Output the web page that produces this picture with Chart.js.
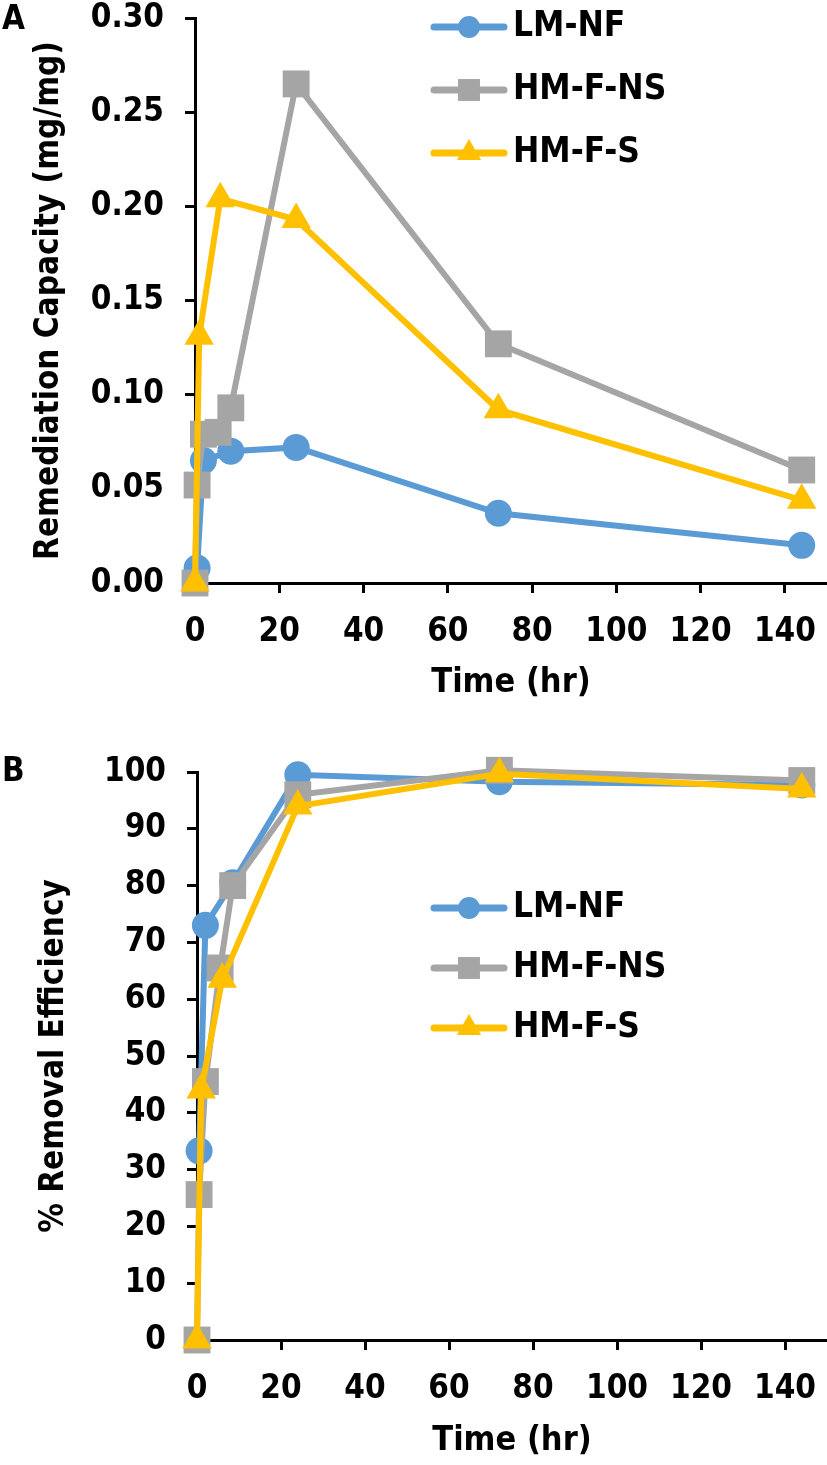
<!DOCTYPE html>
<html>
<head>
<meta charset="utf-8">
<title>Remediation capacity and removal efficiency</title>
<script src="https://cdn.jsdelivr.net/npm/chart.js@4.4.1/dist/chart.umd.min.js"></script>
<style>
  body { margin: 0; background: #fff; }
  #wrapA { position: absolute; left: 0; top: 0; width: 827px; height: 735px; }
  #wrapB { position: absolute; left: 0; top: 735px; width: 827px; height: 730px; }
</style>
</head>
<body>
<div id="wrapA"><canvas id="chartA" width="827" height="735"></canvas></div>
<div id="wrapB"><canvas id="chartB" width="827" height="730"></canvas></div>
<script>
const seriesNames = ['LM-NF', 'HM-F-NS', 'HM-F-S'];
const seriesColors = ['#5B9BD5', '#A5A5A5', '#FFC000'];
const seriesStyles = ['circle', 'rect', 'triangle'];

// sampling times (hr) per series
const lmTimes = [0.5, 2, 8.5, 24, 72, 144];
const nsTimes = [0, 0.5, 2, 5.5, 8.5, 24, 72, 144];
const sTimes = [0, 1, 6, 24, 72, 144];

// panel A - remediation capacity (mg/mg)
const lmCapacity = [0.008, 0.065, 0.070, 0.072, 0.037, 0.020];
const nsCapacity = [0, 0.052, 0.079, 0.080, 0.093, 0.265, 0.127, 0.060];
const sCapacity = [0, 0.131, 0.204, 0.193, 0.092, 0.044];

// panel B - % removal efficiency
const lmRemoval = [33.3, 73, 80.5, 99.5, 98.3, 97.7];
const nsRemoval = [0, 25.6, 45.5, 65.5, 80, 96, 100.3, 98.5];
const sRemoval = [0, 44, 63.5, 94, 99.7, 97];

const FONT = '"DejaVu Sans Condensed", "DejaVu Sans", sans-serif';
Chart.defaults.font.family = FONT;
Chart.defaults.font.weight = 'bold';
Chart.defaults.color = '#000';

const pointSizes = [13.5, 19, 17];
const legendSizes = [11, 15.5, 14];

function toPoints(times, values) {
  return times.map((t, i) => ({ x: t, y: values[i] }));
}

function makeDatasets(valueSets, timeSets) {
  return valueSets.map((vals, i) => ({
    label: seriesNames[i],
    data: toPoints(timeSets[i], vals),
    showLine: true,
    borderColor: seriesColors[i],
    backgroundColor: seriesColors[i],
    borderWidth: 6,
    pointStyle: seriesStyles[i],
    pointRadius: pointSizes[i],
    pointBorderWidth: 0,
    pointBackgroundColor: seriesColors[i],
    tension: 0,
    clip: false,
    order: 3 - i
  }));
}

// excel-like legend: line through the marker
const lineLegend = {
  id: 'lineLegend',
  afterDraw(chart, args, opts) {
    const ctx = chart.ctx;
    ctx.save();
    chart.data.datasets.forEach((ds, i) => {
      const y = opts.top + i * opts.gap;
      ctx.strokeStyle = ds.borderColor;
      ctx.lineWidth = 7;
      ctx.lineCap = 'round';
      ctx.beginPath();
      ctx.moveTo(opts.x - 35, y);
      ctx.lineTo(opts.x + 35, y);
      ctx.stroke();
      ctx.fillStyle = ds.borderColor;
      Chart.helpers.drawPoint(ctx, { pointStyle: ds.pointStyle, radius: legendSizes[i], borderWidth: 0, rotation: 0 }, opts.x, y);
      ctx.fillStyle = '#000';
      ctx.font = 'bold 35px ' + FONT;
      ctx.textAlign = 'left';
      ctx.textBaseline = 'middle';
      ctx.fillText(ds.label, opts.x + 44, y);
    });
    ctx.restore();
  }
};

const panelLabel = {
  id: 'panelLabel',
  afterDraw(chart, args, opts) {
    const ctx = chart.ctx;
    ctx.save();
    ctx.fillStyle = '#000';
    ctx.font = 'bold 33px ' + FONT;
    ctx.textAlign = 'left';
    ctx.textBaseline = 'middle';
    ctx.fillText(opts.text, opts.x, opts.y);
    ctx.restore();
  }
};

function axisStyle() {
  return {
    border: { display: true, color: '#000', width: 3 },
    grid: { display: true, drawOnChartArea: false, drawTicks: true, tickLength: 10, tickWidth: 3, tickColor: '#000', color: '#000' }
  };
}

function makeChart(id, cfg) {
  return new Chart(document.getElementById(id), {
    type: 'scatter',
    data: { datasets: cfg.datasets },
    plugins: [lineLegend, panelLabel],
    options: {
      responsive: false,
      animation: false,
      events: [],
      layout: { autoPadding: false, padding: { top: cfg.top, right: 0, left: 0, bottom: 0 } },
      plugins: {
        legend: { display: false },
        tooltip: { enabled: false },
        lineLegend: cfg.legend,
        panelLabel: cfg.label
      },
      scales: {
        x: {
          type: 'linear',
          min: 0,
          max: 150,
          ...axisStyle(),
          ticks: { stepSize: 20, includeBounds: false, autoSkip: false, maxRotation: 0, padding: 20, font: { size: 33 } },
          afterBuildTicks: s => { s.ticks = s.ticks.filter(t => t.value <= 140); },
          afterFit: s => { s.height = cfg.xHeight; s.paddingLeft = 0; s.paddingRight = 0; },
          title: { display: true, text: 'Time (hr)', font: { size: 34 }, padding: { top: 0, bottom: cfg.xTitlePad } }
        },
        y: {
          type: 'linear',
          min: 0,
          max: cfg.yMax,
          ...axisStyle(),
          ticks: { stepSize: cfg.yStep, padding: 21, font: { size: 33 }, callback: cfg.yFormat },
          afterFit: s => { s.width = cfg.yWidth; s.paddingTop = 0; s.paddingBottom = 0; },
          title: { display: true, text: cfg.yTitle, font: { size: 33 }, padding: { top: cfg.yTitlePad, bottom: 0 } }
        }
      }
    }
  });
}

makeChart('chartA', {
  datasets: makeDatasets([lmCapacity, nsCapacity, sCapacity], [lmTimes, nsTimes, sTimes]),
  top: 18,
  xHeight: 152,
  xTitlePad: 31,
  yWidth: 195,
  yMax: 0.30,
  yStep: 0.05,
  yFormat: v => v.toFixed(2),
  yTitle: 'Remediation Capacity (mg/mg)',
  yTitlePad: 30,
  legend: { x: 469, top: 27, gap: 63 },
  label: { text: 'A', x: 2, y: 20 }
});

makeChart('chartB', {
  datasets: makeDatasets([lmRemoval, nsRemoval, sRemoval], [lmTimes, nsTimes, sTimes]),
  top: 37,
  xHeight: 125,
  xTitlePad: 3,
  yWidth: 197,
  yMax: 100,
  yStep: 10,
  yFormat: v => String(v),
  yTitle: '% Removal Efficiency',
  yTitlePad: 35,
  legend: { x: 469, top: 173, gap: 60 },
  label: { text: 'B', x: 2, y: 37 }
});
</script>
</body>
</html>
